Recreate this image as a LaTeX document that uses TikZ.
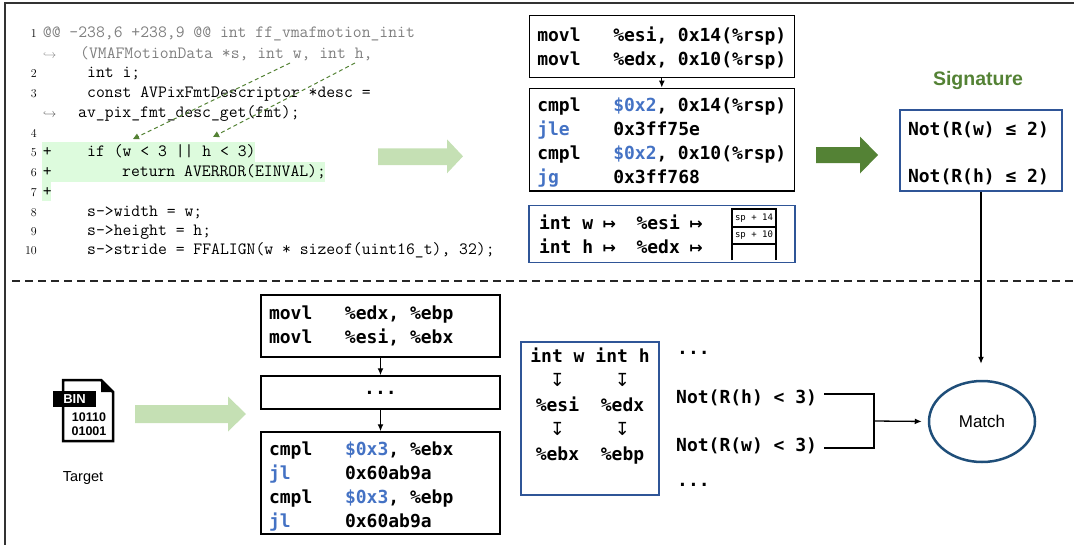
\documentclass[tikz,border=0pt]{standalone}
\usepackage{fontspec}
\usepackage{xcolor}
\usepackage{tikz}
\usetikzlibrary{arrows.meta}
\usetikzlibrary{positioning}
\usetikzlibrary{shapes.geometric}
\newfontfamily\asmfont{DejaVu Sans Mono}
\newfontfamily\arrowfont{DejaVu Sans}
\newfontfamily\sansfont{Liberation Sans}
\definecolor{lightgreen}{RGB}{197,224,180}
\definecolor{darkgreen}{RGB}{84,130,53}
\definecolor{asmblue}{RGB}{68,114,196}
\definecolor{boxblue}{RGB}{47,85,151}
\definecolor{matchblue}{RGB}{31,78,121}
\definecolor{addgreen}{RGB}{221,251,221}
\newcommand\asm[2]{\makebox[76pt][l]{#1}#2}
\newcommand\darr{{\arrowfont\mdseries\fontsize{18}{24}\selectfont ↧}}
\newcommand\mapr{\makebox[10.84pt]{\arrowfont\bfseries\fontsize{16}{24}\selectfont ↦}}
\newcommand\fixsp{\spaceskip=0pt\xspaceskip=0pt\relax}
\tikzset{
    code line/.style={
        anchor=base west,
        inner sep=0,
        font=\ttfamily\fontsize{17.2}{19.7}\selectfont,
        text=black,
    },
    line number/.style={
        anchor=base east,
        inner sep=0,
        font=\rmfamily\fontsize{12}{14}\selectfont,
    },
    hook/.style={
        anchor=base west,
        inner sep=0,
        font=\fontsize{13}{15}\selectfont,
    },
    asm box/.style={
        draw,
        rectangle,
        line width=1.5pt,
        inner xsep=8pt,
        inner ysep=0pt,
        text width=249pt,
        align=left,
        execute at begin node=\fixsp,
        font=\asmfont\bfseries\fontsize{18}{24}\selectfont,
    },
    asm text/.style={
        anchor=base west,
        inner xsep=7pt,
        inner ysep=0pt,
        font=\asmfont\bfseries\fontsize{18}{24}\selectfont,
    },
    stack/.style={
        line width=1.8pt,
    },
    stack label/.style={
        inner sep=0,
        font=\asmfont\fontsize{9}{10}\selectfont,
    },
    param link/.style={
        darkgreen,
        line width=1pt,
        dash pattern=on 4pt off 3pt,
        -{Triangle[length=6pt,width=6pt]},
    },
    connector/.style={
        line width=1.3pt,
        -{Latex[length=7pt,width=6pt]},
    },
    match node/.style={
        ellipse,
        draw=matchblue,
        line width=2.5pt,
        minimum width=106pt,
        minimum height=81pt,
        inner sep=0,
        font=\sansfont\fontsize{17}{20}\selectfont,
    },
}

\begin{document}
\begin{tikzpicture}[x=1pt, y=-1pt]
    \useasboundingbox (0,0) rectangle (1074,544);

    \draw[line width=2pt, black!80] (5,560) -- (5,2.5) -- (1090,2.5);
    \draw[line width=1.3pt, black!85, dash pattern=on 8pt off 5pt] (12,281) -- (1074,281);

    % patch
    \fill[addgreen] (42,142) rectangle (255,161.5);
    \fill[addgreen] (42,161.5) rectangle (325,182);
    \fill[addgreen] (42,182) rectangle (51,201);

    \foreach \n/\y in {1/37.3, 2/77, 3/97, 4/137.5, 5/156.5, 6/176, 7/196, 8/216, 9/235, 10/254.5}
    {
        \node[line number] (ln\n) at (37,\y) {\n};
    }

    \node[code line, text=black!50] (c1) at (42.7,37.3) {@@ -238,6 +238,9 @@ int ff\_vmafmotion\_init};
    \node[hook, text=black!50] (h1) at (43,58) {$\hookrightarrow$};
    \node[code line, text=black!50] (c1w) at (80,58) {(VMAFMotionData *s, int w, int h,};
    \node[code line] (c2) at (87,77) {int i;};
    \node[code line] (c3) at (87,97) {const AVPixFmtDescriptor *desc =};
    \node[hook, text=black!70] (h3) at (43,117) {$\hookrightarrow$};
    \node[code line] (c3w) at (78,117) {av\_pix\_fmt\_desc\_get(fmt);};
    \node[code line] (p5) at (42.7,156.5) {+};
    \node[code line] (c5) at (87,156.5) {if (w < 3 || h < 3)};
    \node[code line] (p6) at (42.7,176) {+};
    \node[code line] (c6) at (122,176) {return AVERROR(EINVAL);};
    \node[code line] (p7) at (42.7,196) {+};
    \node[code line] (c8) at (87,216) {s->width = w;};
    \node[code line] (c9) at (87,235) {s->height = h;};
    \node[code line] (c10) at (87,254.5) {s->stride = FFALIGN(w * sizeof(uint16\_t), 32);};

    \coordinate (wparam) at (290,63);
    \coordinate (hparam) at (355,63);
    \coordinate (wuse) at (133,139);
    \coordinate (huse) at (213,137);
    \draw[param link] (wparam) -- (wuse);
    \draw[param link] (hparam) -- (huse);

    \fill[lightgreen] (378,148.3) -- (447,148.3) -- (447,139.3) -- (463,156.3) -- (447,173.3) -- (447,165) -- (378,165) -- cycle;
    \fill[darkgreen] (816,147) -- (860,147) -- (860,136.5) -- (878,155) -- (860,173.5) -- (860,163) -- (816,163) -- cycle;
    \fill[lightgreen] (135,405) -- (228,405) -- (228,396.5) -- (246,414) -- (228,431.5) -- (228,423) -- (135,423) -- cycle;

    % patched binary
    \node[asm box, minimum height=62pt] (a1) at (661.8,46.7)
        {\rule{0pt}{17.7pt}\asm{movl}{\%esi, 0x14(\%rsp)}\\\asm{movl}{\%edx, 0x10(\%rsp)}};
    \node[asm box, minimum height=102.7pt] (a2) at (661.8,139.7)
        {\rule{0pt}{19.7pt}\asm{cmpl}{\textcolor{asmblue}{\$0x2}, 0x14(\%rsp)}\\
         \asm{\textcolor{asmblue}{jle}}{0x3ff75e}\\
         \asm{cmpl}{\textcolor{asmblue}{\$0x2}, 0x10(\%rsp)}\\
         \asm{\textcolor{asmblue}{jg}}{0x3ff768}};
    \draw[connector] (a1) -- (a2);

    \node[asm box, draw=boxblue, minimum height=56.6pt, text width=246pt, inner xsep=10pt] (a3) at (662,234)
        {int w \mapr\ \ \%esi \mapr\\int h \mapr\ \ \%edx \mapr};
    \draw[stack] (732,260) -- (732,209) -- (776,209) -- (776,260);
    \draw[stack] (732,227) -- (776,227);
    \draw[stack] (732,244) -- (776,244);
    \node[stack label] (sp14) at (754,218) {sp + 14};
    \node[stack label] (sp10) at (754,235.5) {sp + 10};

    \node[text=darkgreen, font=\sansfont\bfseries\fontsize{19.5}{22}\selectfont] (siglabel) at (978,80) {Signature};
    \node[asm box, draw=boxblue, minimum height=81pt, text width=146pt] (sig) at (981,150.5)
        {\rule{0pt}{19.7pt}Not(R(w) ≤ 2)\\[23pt]Not(R(h) ≤ 2)};

    % target
    \draw[line width=2.5pt, line join=miter] (63,380) -- (101,380) -- (113,392) -- (113,441) -- (63,441) -- cycle;
    \fill (101,380) -- (101,392) -- (113,392) -- cycle;
    \node[fill=black, text=white, minimum width=43pt, minimum height=16pt, inner sep=0,
        font=\sansfont\bfseries\fontsize{13}{15}\selectfont] (bin) at (74.5,399) {BIN};
    \node[align=center, inner sep=0, font=\sansfont\bfseries\fontsize{12.5}{14.3}\selectfont] (bits) at (89,424) {10110\\01001};
    \node[font=\sansfont\fontsize{14.5}{17}\selectfont] (target) at (83,478) {Target};

    \node[asm box, text width=223pt, minimum height=62pt] (b1) at (380.5,326)
        {\asm{movl}{\%edx, \%ebp}\\\asm{movl}{\%esi, \%ebx}};
    \node[asm box, text width=223pt, minimum height=33pt, align=center] (b2) at (380.5,392.5) {...};
    \node[asm box, text width=223pt, minimum height=102pt] (b3) at (380.5,483)
        {\rule{0pt}{21.7pt}\asm{cmpl}{\textcolor{asmblue}{\$0x3}, \%ebx}\\
         \asm{\textcolor{asmblue}{jl}}{0x60ab9a}\\
         \asm{cmpl}{\textcolor{asmblue}{\$0x3}, \%ebp}\\
         \asm{\textcolor{asmblue}{jl}}{0x60ab9a}};
    \draw[connector] (b1) -- (b2);
    \draw[connector] (b2) -- (b3);

    \node[asm box, draw=boxblue, text width=122pt, minimum height=153pt, align=center] (regmap) at (590,418.5)
        {\renewcommand\arraystretch{1.02}%
         \begin{tabular}{@{}c@{\ }c@{}}
            int w & int h\\
            \darr & \darr\\
            \%esi & \%edx\\
            \darr & \darr\\
            \%ebx & \%ebp\\
            &
        \end{tabular}};

    \node[asm text, inner sep=0] (dotsup) at (677,354) {...};
    \node[asm text] (nh) at (669,403.6) {Not(R(h) < 3)};
    \node[asm text] (nw) at (669,451.6) {Not(R(w) < 3)};
    \node[asm text, inner sep=0] (dotsdown) at (677,486) {...};

    \node[match node] (match) at (982,421.5) {Match};
    \coordinate (join) at (874,421);
    \draw[line width=1.3pt] ([yshift=4pt]nh.east) -| (join);
    \draw[line width=1.3pt] ([yshift=-2pt]nw.east) -| (join);
    \draw[connector, shorten >=6pt] (join) -- (match.west);
    \draw[connector, shorten >=16pt] (sig.south) -- (sig.south |- match.north);

\end{tikzpicture}
\end{document}
